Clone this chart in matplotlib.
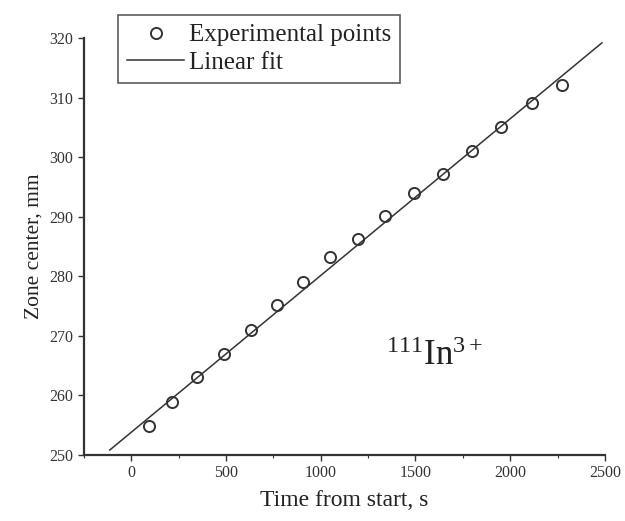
import numpy as np
import matplotlib
matplotlib.use("Agg")
import matplotlib.pyplot as plt
from matplotlib.ticker import MultipleLocator

plt.rcParams['font.family'] = ['Liberation Serif', 'DejaVu Serif']
plt.rcParams['mathtext.fontset'] = 'custom'
plt.rcParams['mathtext.rm'] = 'Liberation Serif'
plt.rcParams['mathtext.it'] = 'Liberation Serif:italic'

# experimental points
time_s = [93, 214, 346, 489, 631, 769, 906, 1048, 1196, 1339,
          1492, 1645, 1798, 1951, 2115, 2273]
zone_mm = [254.9, 258.9, 263.0, 267.0, 271.0, 275.1, 279.0, 283.2, 286.3, 290.1,
           294.0, 297.2, 301.0, 305.1, 309.1, 312.1]

# ends of the fitted line
fit_t = [-113, 2484]
fit_z = [250.8, 319.2]

xticks = [0, 500, 1000, 1500, 2000, 2500]
yticks = [250, 260, 270, 280, 290, 300, 310, 320]

ink = '#333333'

fig = plt.figure(figsize=(6.25, 5.21), dpi=100)
ax = fig.add_axes([0.134, 0.127, 0.834, 0.800])

pts, = ax.plot(time_s, zone_mm, 'o', mfc='none', mec=ink, mew=1.4, ms=8,
               label='Experimental points')
fit, = ax.plot(fit_t, fit_z, '-', color=ink, lw=1.1, label='Linear fit')

ax.set_xlim(-250, 2500)
ax.set_ylim(250, 320)
ax.set_xticks(xticks)
ax.set_yticks(yticks)
ax.xaxis.set_minor_locator(MultipleLocator(250))

for s in ['top', 'right']:
    ax.spines[s].set_visible(False)
for s in ['left', 'bottom']:
    ax.spines[s].set_color(ink)
    ax.spines[s].set_linewidth(1.6)

ax.tick_params(axis='both', which='major', direction='out', length=4,
               width=1.0, colors=ink, labelsize=11.5, labelcolor='#333333')
ax.tick_params(axis='x', which='minor', direction='out', length=2,
               width=0.8, colors=ink)

ax.set_xlabel('Time from start, s', fontsize=17, color='#222222', labelpad=6)
ax.set_ylabel('Zone center, mm', fontsize=15.5, color='#222222', labelpad=4)

ax.text(1600, 266.5, r'$^{111}\mathrm{In}^{3+}$', fontsize=25, color='#222222',
        ha='center', va='center')

leg = fig.legend(handles=[pts, fit], loc='upper left',
                 bbox_to_anchor=(118 / 625, 1 - 15 / 521),
                 fontsize=18, frameon=True, fancybox=False, numpoints=1,
                 handlelength=2.3, handletextpad=0.2, borderpad=0.35,
                 labelspacing=0.2, borderaxespad=0.0)
leg.get_frame().set_edgecolor('#333333')
leg.get_frame().set_linewidth(1.2)
for t in leg.get_texts():
    t.set_color('#222222')

fig.savefig('out.png', dpi=100, facecolor='white')
